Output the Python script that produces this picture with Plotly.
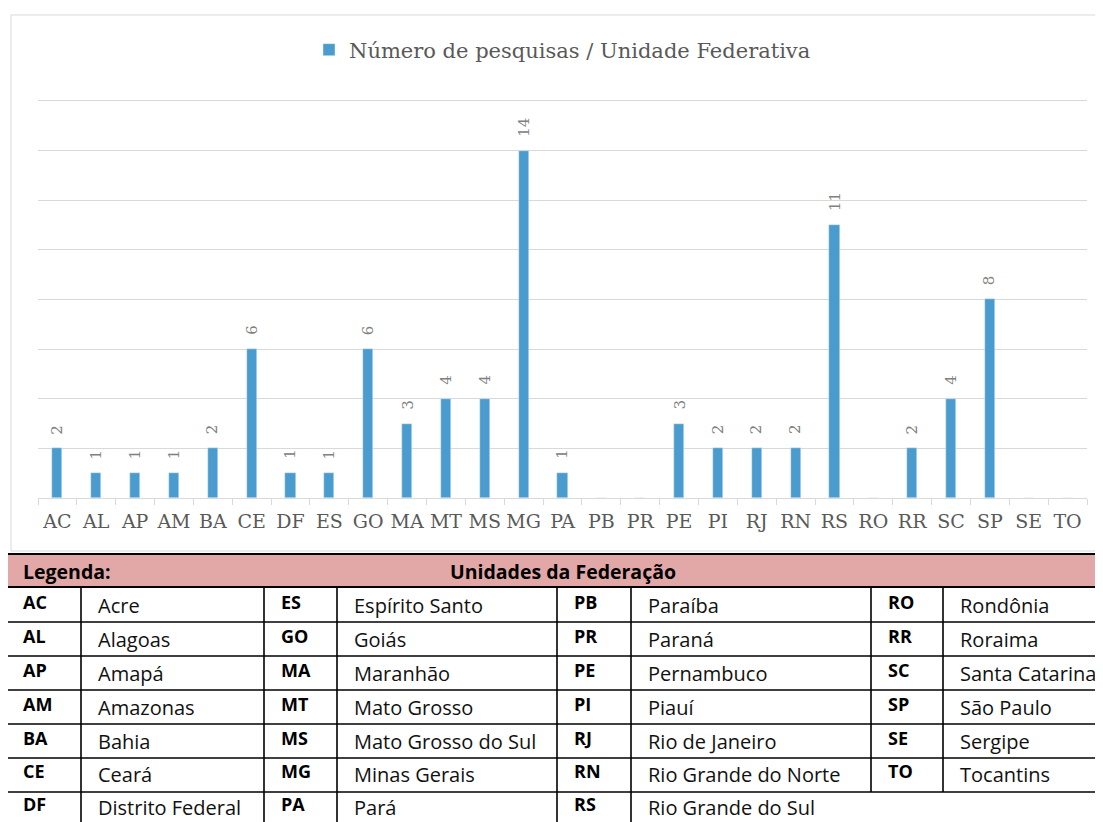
import plotly.graph_objects as go

# ---- data ----
uf_codes = ["AC", "AL", "AP", "AM", "BA", "CE", "DF", "ES", "GO", "MA", "MT", "MS", "MG", "PA",
            "PB", "PR", "PE", "PI", "RJ", "RN", "RS", "RO", "RR", "SC", "SP", "SE", "TO"]
uf_names = ["Acre", "Alagoas", "Amapá", "Amazonas", "Bahia", "Ceará", "Distrito Federal",
            "Espírito Santo", "Goiás", "Maranhão", "Mato Grosso", "Mato Grosso do Sul", "Minas Gerais", "Pará",
            "Paraíba", "Paraná", "Pernambuco", "Piauí", "Rio de Janeiro", "Rio Grande do Norte", "Rio Grande do Sul",
            "Rondônia", "Roraima", "Santa Catarina", "São Paulo", "Sergipe", "Tocantins"]
pesquisas = [2, 1, 1, 1, 2, 6, 1, 1, 6, 3, 4, 4, 14, 1,
             0, 0, 3, 2, 2, 2, 11, 0, 2, 4, 8, 0, 0]
series_name = "Número de pesquisas / Unidade Federativa"
legend_header = "Legenda:"
table_header = "Unidades da Federação"

# ---- layout geometry (page pixels) ----
PAGE_W, PAGE_H = 1103, 822
BODY = 8  # default page body margin
W, H = PAGE_W - BODY, PAGE_H - BODY
YMAX = 16.08
UNIT = (498 - 101) / 16.0
PL, PR_, PB_ = 38, 1087, 498
PT = PB_ - YMAX * UNIT


def px_x(x):
    return (x - PL) / (PR_ - PL)


def px_y(y):
    return (PB_ - y) / (PB_ - PT)


BAR = "#4A9CCE"
GRID = "#D9D9D9"
TXT = "#595959"
SERIF = "DejaVu Serif"
SANS = "Open Sans"

fig = go.Figure()
fig.add_trace(go.Bar(
    x=uf_codes, y=pesquisas, name=series_name, marker_color=BAR, width=0.26,
    showlegend=True,
))

annotations = []
# data labels
for c, v in zip(uf_codes, pesquisas):
    if v > 0:
        annotations.append(dict(
            x=c, y=v, xref="x", yref="y", text=str(v), showarrow=False,
            textangle=-90, yanchor="bottom", yshift=12,
            font=dict(family=SERIF, size=15, color="#808080"),
        ))

shapes = []
# chart area border
shapes.append(dict(type="rect", xref="paper", yref="paper",
                   x0=px_x(11), x1=px_x(1112), y0=px_y(15), y1=px_y(551),
                   line=dict(color=GRID, width=1), layer="below"))

# ---- legend table ----
T_LEFT, T_RIGHT = 6, 1115
HDR_TOP, HDR_BOT = 554, 587
row_lines = [587, 622, 656, 690, 724, 758, 792]
T_BOTTOM = 830
col_lines = [6, 81, 264, 337, 557, 631, 871, 943]
LW = 1.6

shapes.append(dict(type="rect", xref="paper", yref="paper",
                   x0=px_x(T_LEFT), x1=px_x(T_RIGHT), y0=px_y(HDR_TOP), y1=px_y(HDR_BOT),
                   fillcolor="#E2A8A8", line=dict(color="black", width=2)))
for ry in row_lines[1:]:
    shapes.append(dict(type="line", xref="paper", yref="paper",
                       x0=px_x(T_LEFT), x1=px_x(T_RIGHT), y0=px_y(ry), y1=px_y(ry),
                       line=dict(color="black", width=LW)))
for i, cx in enumerate(col_lines):
    y_end = 792 if i >= 6 else T_BOTTOM
    shapes.append(dict(type="line", xref="paper", yref="paper",
                       x0=px_x(cx), x1=px_x(cx), y0=px_y(HDR_BOT), y1=px_y(y_end),
                       line=dict(color="black", width=LW)))

annotations.append(dict(x=px_x(21), y=px_y(571), xref="paper", yref="paper", text="<b>" + legend_header + "</b>",
                        showarrow=False, xanchor="left", yanchor="middle",
                        font=dict(family=SANS, size=19.5, color="black")))
annotations.append(dict(x=px_x(563), y=px_y(571), xref="paper", yref="paper", text="<b>" + table_header + "</b>",
                        showarrow=False, xanchor="center", yanchor="middle",
                        font=dict(family=SANS, size=19.5, color="black")))

row_centers = [604, 638, 672, 706, 740, 773, 806]
groups = [(0, 7), (7, 14), (14, 21), (21, 27)]
for g, (a, b) in enumerate(groups):
    code_x = col_lines[2 * g] + 15
    name_x = col_lines[2 * g + 1] + 15
    for r, idx in enumerate(range(a, b)):
        cy = row_centers[r]
        annotations.append(dict(x=px_x(code_x), y=px_y(cy - 2.5), xref="paper", yref="paper",
                                text="<b>" + uf_codes[idx] + "</b>", showarrow=False,
                                xanchor="left", yanchor="middle",
                                font=dict(family=SANS, size=18, color="black")))
        annotations.append(dict(x=px_x(name_x), y=px_y(cy + 1), xref="paper", yref="paper",
                                text=uf_names[idx], showarrow=False,
                                xanchor="left", yanchor="middle",
                                font=dict(family=SANS, size=20, color="#111111")))

fig.update_layout(
    width=W, height=H,
    margin=dict(l=PL - BODY, r=PAGE_W - PR_, t=PT - BODY, b=PAGE_H - PB_, pad=0),
    paper_bgcolor="white", plot_bgcolor="white",
    bargap=0,
    showlegend=True,
    legend=dict(orientation="h", x=0.5, xanchor="center", y=px_y(50), yanchor="middle",
                font=dict(family=SERIF, size=21, color=TXT), itemwidth=30,
                bgcolor="rgba(0,0,0,0)"),
    xaxis=dict(type="category", showline=True, linecolor=GRID, linewidth=1,
               ticks="outside", tickson="boundaries", ticklen=6, tickcolor=GRID,
               tickangle=0, ticklabelstandoff=6,
               tickfont=dict(family=SERIF, size=19, color=TXT), showgrid=False,
               range=[-0.5, len(uf_codes) - 0.5]),
    yaxis=dict(range=[0, YMAX], dtick=2, showticklabels=False, gridcolor=GRID, gridwidth=1,
               zeroline=False, showline=False, ticks=""),
    shapes=shapes,
    annotations=annotations,
)

fig.write_html("out.html")
